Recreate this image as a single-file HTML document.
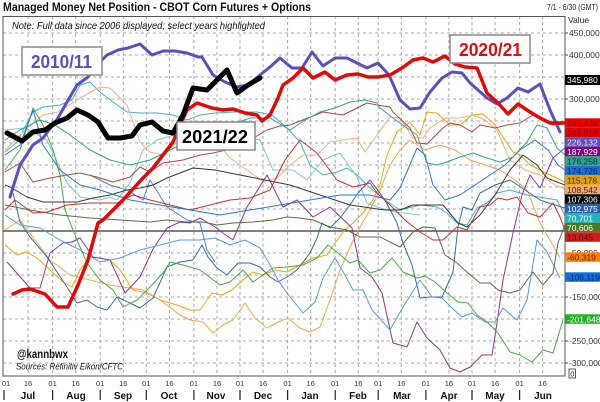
<!DOCTYPE html>
<html><head><meta charset="utf-8"><style>
html,body{margin:0;padding:0;background:#fff;}
svg{display:block;font-family:"Liberation Sans",Arial,sans-serif;}
</style></head><body>
<svg width="600" height="402" viewBox="0 0 600 402" xmlns="http://www.w3.org/2000/svg">
<rect x="0" y="0" width="600" height="402" fill="#fff"/>
<!-- title -->
<text x="3" y="11" font-size="12" font-weight="bold" fill="#111" textLength="308" lengthAdjust="spacingAndGlyphs">Managed Money Net Position - CBOT Corn Futures + Options</text>
<text x="547" y="10" font-size="8" fill="#222" textLength="51" lengthAdjust="spacingAndGlyphs">7/1 - 6/30 (GMT)</text>
<text x="568" y="23" font-size="8.5" fill="#222">Value</text>

<!-- grid -->
<g stroke="#a8a8a8" stroke-width="1" stroke-dasharray="3,3" fill="none">
<path d="M3,33H565M3,55H565M3,77H565M3,99H565M3,121H565M3,143H565M3,165H565M3,187H565M3,209H565M3,253H565M3,275H565M3,297H565M3,319H565M3,341H565M3,363H565"/>
<path d="M28,16V376M52.6,16V376M75.7,16V376M100.2,16V376M123.3,16V376M146.3,16V376M169.4,16V376M193.9,16V376M217,16V376M240,16V376M263,16V376M287.6,16V376M310.7,16V376M335.2,16V376M358.3,16V376M378.2,16V376M401.3,16V376M425.9,16V376M448.9,16V376M472,16V376M495,16V376M519.6,16V376M542.6,16V376"/>
</g>
<line x1="3" y1="231" x2="565" y2="231" stroke="#555" stroke-width="1.6"/>

<!-- thin series -->
<g fill="none" stroke-width="1" stroke-linejoin="round">
<!-- A teal -->
<polyline stroke="#4bacc6" points="5,152 17,142 33,112 43,107 60,105 72,100 80,85 90,82 100,92 113,102 127,112 140,113 157,113 173,115 187,120 200,115 215,113 235,112 257,112 272,115 287,128 300,142 310,165 323,175 337,172 347,168 357,175 370,188 385,200 400,210 420,205 437,207 447,213 457,223 467,225 477,208 487,203 497,193 510,190 527,195 545,198 557,200 565,216"/>
<!-- A2 light cyan dip -->
<polyline stroke="#7cc8d0" points="5,130 25,128 47,140 67,183 80,197 100,200 110,197 117,200 130,183 143,150 157,140 175,135 200,130 230,135 260,140 273,170 293,170 307,180 323,160 340,153 357,177 367,203 377,207 395,212 420,215"/>
<!-- B peach -->
<polyline stroke="#f2b084" points="5,150 20,135 43,115 58,112 80,98 100,87 110,88 127,105 140,142 150,152 163,155 177,142 190,145 203,140 217,142 230,158 250,172 263,182 277,178 290,165 303,155 317,155 330,142 343,140 357,138 365,152 377,135 390,117 400,118 413,138 423,138 430,128 445,118 460,118 473,115 485,120 497,130 510,160 525,170 540,175 555,185 565,189"/>
<!-- C gold -->
<polyline stroke="#e6a817" points="5,245 17,255 27,252 37,258 50,270 63,282 72,287 80,270 90,257 100,258 110,260 120,270 133,290 147,293 160,300 177,305 190,310 200,310 212,293 222,295 232,290 243,280 253,272 263,275 275,270 287,272 300,265 313,258 327,255 335,243 345,230 353,223 363,213 373,200 380,185 387,155 397,132 410,122 420,135 427,112 437,113 450,125 460,125 472,115 483,114 495,125 507,143 513,152 520,155 530,165 540,170 550,175 565,182"/>
<!-- D orange -->
<polyline stroke="#eda555" points="5,230 20,220 35,240 50,260 70,275 90,280 110,285 130,288 143,290 160,300 180,315 190,320 203,322 213,333 223,325 233,320 245,303 255,318 267,328 278,322 288,318 300,328 310,332 320,327 330,300 340,270 350,247 360,227 370,210 380,190 390,165 400,150 410,140 425,150 440,145 455,150 470,160 485,165 500,170 515,180 527,190 540,223 550,240 560,258"/>
<!-- E purple -->
<polyline stroke="#8b3a8b" points="7,262 30,288 40,288 50,253 63,243 72,242 80,238 93,257 110,260 125,293 140,277 153,249 167,228 180,222 190,223 200,218 215,227 223,233 233,240 247,207 267,175 283,207 297,200 313,217 330,207 347,223 352,228 360,268 372,277 382,293 393,343 407,347 417,322 427,338 440,350 450,368 460,372 470,367 482,355 492,355 497,323 503,280 513,233 522,195 530,175 540,188 553,158 565,148"/>
<!-- F steel blue -->
<polyline stroke="#3a6aa8" points="13,193 20,222 30,237 47,257 67,287 77,303 87,300 97,307 107,310 117,297 130,303 140,308 153,298 167,267 180,262 193,260 202,245 208,257 217,268 227,275 238,263 250,263 260,267 270,277 278,282 287,277 297,270 310,253 317,238 322,223 330,228 340,218 350,205 358,193 370,180 385,200 397,223 403,243 412,265 420,298 430,297 442,297 453,272 458,227 463,207 472,210 480,193 495,185 510,180 525,190 540,200 555,205 565,208"/>
<!-- G light blue spiky -->
<polyline stroke="#5b9bd5" points="5,215 20,225 40,228 60,240 80,250 100,262 120,258 140,250 160,245 180,240 200,240 215,238 230,245 245,240 260,248 270,265 278,280 287,293 303,313 315,302 323,278 335,258 345,275 353,290 363,290 372,310 383,322 390,330 403,307 420,280 432,297 442,298 452,308 462,317 472,313 485,322 495,322 503,308 517,320 527,300 537,240 547,252 560,278"/>
<!-- G2 blue -->
<polyline stroke="#4a86c8" points="90,175 110,185 127,190 143,200 150,180 167,207 187,220 200,223 207,250 215,262"/>
<!-- H green -->
<polyline stroke="#4aa84a" points="5,170 20,150 33,108 43,125 53,150 60,175 65,210 77,240 87,263 100,280 113,290 123,307 137,300 150,287 163,273 170,262 183,265 200,270 220,285 230,282 243,270 253,282 263,275 273,268 287,267 303,265 317,258 328,245 338,253 350,263 358,260 370,273 380,270 392,258 403,272 417,278 425,276 435,282 447,293 458,302 468,303 477,315 487,322 498,333 510,352 520,355 532,362 543,350 553,353 563,320"/>
<!-- I olive / gray -->
<polyline stroke="#5f6a48" points="5,205 30,210 60,215 90,218 120,220 150,222 167,220 187,222 203,222 217,225 233,223 253,222 273,220 287,217 300,218 313,220 330,227 347,230 360,237 377,237 380,237 400,247 413,232 423,227 435,228 445,255 457,263 468,273 480,283 490,283 498,290 510,293 520,290 533,272 543,285 553,273 558,243 565,225"/>
<!-- K dark -->
<polyline stroke="#3a3a3a" points="5,185 10,187 27,197 43,202 60,202 77,202 93,198 110,195 127,190 140,188 153,185 167,178 180,173 193,168 215,170 240,175 265,180 290,185 320,195 350,205 385,210 400,210 413,205 443,205 458,223 467,227 480,215 495,195 510,170 523,155 537,165 547,178 557,182 565,185"/>
<!-- L red thin -->
<polyline stroke="#c83030" points="5,210 15,200 33,213 47,212 67,205 90,203 117,203 133,195 150,200 170,205 190,210 210,205 230,200 250,198 270,190 285,160 300,140 317,153 337,180 353,187 370,183 377,193 390,205 405,220 420,232 433,240 443,240 457,227 467,230 480,207 490,205 498,198 507,200 517,197 528,213 540,217 553,203 560,217 565,230"/>
<!-- M brown red -->
<polyline stroke="#b04848" points="5,172 20,163 33,182 50,178 67,175 80,173 97,177 113,182 130,177 140,167 150,172 163,163 183,160 200,155 213,153 235,148 250,140 267,130 280,126 290,125 323,112 343,115 353,110 367,103 377,105 390,107 393,112 410,128 417,143 427,144 443,128 450,123 460,125 472,132 480,125 495,128 507,125 520,123 533,115 540,118 553,125 565,124"/>
<!-- N blue -->
<polyline stroke="#2e75d0" points="5,155 20,145 33,110 43,145 60,170 80,185 100,190 130,200 160,205 190,210 220,215 250,210 280,205 310,200 340,195 370,195 390,200 400,188 417,148 425,155 433,185 445,200 460,195 475,185 490,175 505,165 520,150 535,140 548,150 558,165 565,170"/>
<!-- O teal-green -->
<polyline stroke="#3aa090" points="5,140 20,130 40,120 55,125 70,135 90,150 110,160 130,165 150,160 170,150 190,140 210,130 230,125 250,118 270,118 290,130 305,120 320,112 335,108 350,102 365,100 377,103 380,108 393,118 407,128 417,135 427,163 437,165 447,162 460,157 473,153 487,158 500,162 513,157 527,142 537,125 547,128 557,148 565,155"/>
</g>

<!-- highlighted series -->
<g fill="none" stroke-linejoin="round" stroke-linecap="round">
<polyline stroke="#5e4fb8" stroke-width="3" points="10,197 20,165 33,145 43,138 58,118 67,102 77,85 88,77 100,62 107,55 118,50 128,48 140,44 152,55 163,51 175,51 187,53 198,57 202,57 213,75 225,82 237,87 248,85 260,75 270,67 280,58 292,68 302,68 312,52 323,66 335,58 347,58 357,63 367,68 378,63 389,75 400,100 410,109 420,108 430,92 442,78 452,72 462,73 470,83 478,90 487,98 497,104 507,98 518,88 528,92 540,84 550,110 560,132"/>
<polyline stroke="#dd0a0a" stroke-width="3.5" points="13,294 22,290 30,289 45,294 57,307 68,307 78,285 88,260 98,223 103,220 113,210 123,200 132,190 143,178 153,168 163,155 173,142 180,125 187,110 197,103 200,104 212,108 223,110 233,109 245,113 257,115 262,121 270,115 278,98 283,85 293,78 303,68 313,78 325,72 335,80 347,75 358,74 368,77 378,77 390,75 402,68 413,60 423,58 433,62 445,56 455,64 465,67 477,68 487,93 498,103 508,114 518,104 530,112 540,118 550,123 565,123"/>
<polyline stroke="#000" stroke-width="5" points="7,133 22,141 33,132 45,130 55,123 67,118 77,110 88,115 98,122 108,138 120,138 132,136 140,125 152,122 163,131 173,133 183,115 193,88 207,90 215,82 227,70 237,93 248,85 260,78"/>
</g>

<!-- plot frame -->
<rect x="3" y="16.5" width="562" height="359.5" fill="none" stroke="#555" stroke-width="1"/>

<!-- annotation texts -->
<text x="12" y="29" font-size="10.5" font-style="italic" fill="#111" textLength="253" lengthAdjust="spacingAndGlyphs">Note: Full data since 2006 displayed; select years highlighted</text>
<text x="17" y="358" font-size="11.5" font-weight="bold" fill="#111" textLength="51" lengthAdjust="spacingAndGlyphs">@kannbwx</text>
<text x="16" y="369.5" font-size="9" font-style="italic" fill="#111" textLength="107" lengthAdjust="spacingAndGlyphs">Sources: Refinitiv Eikon/CFTC</text>

<!-- year boxes -->
<rect x="22" y="47" width="80" height="28" fill="#fff" stroke="#8a8a8a" stroke-width="1.5"/>
<text x="31" y="68" font-size="18" font-weight="bold" fill="#5e4fb8" textLength="61" lengthAdjust="spacingAndGlyphs">2010/11</text>
<rect x="177" y="122" width="78" height="28" fill="#fff" stroke="#8a8a8a" stroke-width="1.5"/>
<text x="182" y="143" font-size="18" font-weight="bold" fill="#000" textLength="66" lengthAdjust="spacingAndGlyphs">2021/22</text>
<rect x="450" y="35" width="80" height="28" fill="#fff" stroke="#8a8a8a" stroke-width="1.5"/>
<text x="459" y="56" font-size="18" font-weight="bold" fill="#d81010" textLength="63" lengthAdjust="spacingAndGlyphs">2020/21</text>

<!-- right axis ticks & labels -->
<g stroke="#444" stroke-width="1">
<path d="M565,33H568M565,55H568M565,77H568M565,99H568M565,121H568M565,143H568M565,253H568M565,297H568M565,341H568M565,363H568"/>
</g>
<g font-size="8.5" fill="#333">
<text x="569" y="36">450,000</text>
<text x="569" y="58">400,000</text>
<text x="569" y="102">300,000</text>
<text x="569" y="256">-50,000</text>
<text x="569" y="300">-150,000</text>
<text x="569" y="344">-250,000</text>
<text x="569" y="366">-300,000</text>
</g>
<g font-size="8.5">
<rect x="565" y="75" width="35" height="10" fill="#000"/><text x="567" y="83.2" fill="#fff">345,980</text>
<rect x="565" y="118.3" width="35" height="9.5" fill="#ee0000"/><text x="567" y="126.3" fill="#9a0000">245,434</text>
<rect x="565" y="127.8" width="35" height="9.5" fill="#e00000"/><text x="567" y="135.8" fill="#900000">244,818</text>
<rect x="565" y="137.3" width="35" height="9.5" fill="#5e4fb8"/><text x="567" y="145.3" fill="#e8e4ff">226,132</text>
<rect x="565" y="146.8" width="35" height="9.5" fill="#800080"/><text x="567" y="154.8" fill="#fff">187,929</text>
<rect x="565" y="156.3" width="35" height="9.5" fill="#2fa090"/><text x="567" y="164.3" fill="#0c3a32">176,258</text>
<rect x="565" y="165.8" width="35" height="9.5" fill="#1e6fd0"/><text x="567" y="173.8" fill="#0a2a60">174,726</text>
<rect x="565" y="175.3" width="35" height="9.5" fill="#e0a000"/><text x="567" y="183.3" fill="#4a3000">115,178</text>
<rect x="565" y="184.8" width="35" height="9.5" fill="#f0a870"/><text x="567" y="192.8" fill="#4a2a10">108,542</text>
<rect x="565" y="194.3" width="35" height="9.5" fill="#000"/><text x="567" y="202.3" fill="#fff">107,306</text>
<rect x="565" y="203.8" width="35" height="9.5" fill="#2a5ea8"/><text x="567" y="211.8" fill="#fff">102,975</text>
<rect x="565" y="213.3" width="35" height="9.5" fill="#20b0c0"/><text x="567" y="221.3" fill="#fff">70,701</text>
<rect x="565" y="222.8" width="35" height="9.5" fill="#4a7a20"/><text x="567" y="230.8" fill="#fff">70,606</text>
<rect x="565" y="232.3" width="35" height="9.5" fill="#cc2020"/><text x="567" y="240.3" fill="#6a0000">13,045</text>
<rect x="565" y="252.3" width="35" height="9.5" fill="#ff8000"/><text x="567" y="260.3" fill="#5a2a00">-60,319</text>
<rect x="565" y="272.3" width="35" height="9.5" fill="#1070e0"/><text x="567" y="280.3" fill="#062a60">-106,119</text>
<rect x="565" y="314.3" width="35" height="9.5" fill="#20b020"/><text x="567" y="322.3" fill="#fff">-201,648</text>
</g>
<rect x="569" y="369" width="6.5" height="9" fill="#fff" stroke="#333" stroke-width="0.8"/>
<text x="570.3" y="376.5" font-size="7.5" fill="#222">0</text>

<!-- x axis labels -->
<g font-size="7.5" fill="#333" text-anchor="middle">
<text x="6" y="386">01</text><text x="28" y="386">16</text>
<text x="52.6" y="386">01</text><text x="75.7" y="386">16</text>
<text x="100.2" y="386">01</text><text x="123.3" y="386">16</text>
<text x="146.3" y="386">01</text><text x="169.4" y="386">16</text>
<text x="193.9" y="386">01</text><text x="217" y="386">16</text>
<text x="240" y="386">01</text><text x="263" y="386">16</text>
<text x="287.6" y="386">01</text><text x="310.7" y="386">16</text>
<text x="335.2" y="386">01</text><text x="358.3" y="386">16</text>
<text x="378.2" y="386">01</text><text x="401.3" y="386">16</text>
<text x="425.9" y="386">01</text><text x="448.9" y="386">16</text>
<text x="472" y="386">01</text><text x="495" y="386">16</text>
<text x="519.6" y="386">01</text><text x="542.6" y="386">16</text>
</g>
<g font-size="10" font-weight="bold" fill="#111" text-anchor="middle">
<text x="28" y="399">Jul</text><text x="76" y="399">Aug</text><text x="123" y="399">Sep</text>
<text x="169" y="399">Oct</text><text x="216" y="399">Nov</text><text x="263" y="399">Dec</text>
<text x="310" y="399">Jan</text><text x="358" y="399">Feb</text><text x="402" y="399">Mar</text>
<text x="449" y="399">Apr</text><text x="495" y="399">May</text><text x="543" y="399">Jun</text>
</g>
<g stroke="#222" stroke-width="1.2">
<path d="M4,390V400M52.6,390V400M100.2,390V400M146.3,390V400M193.9,390V400M240,390V400M287.6,390V400M335.2,390V400M378.2,390V400M425.9,390V400M472,390V400M519.6,390V400"/>
</g>
</svg>
</body></html>
